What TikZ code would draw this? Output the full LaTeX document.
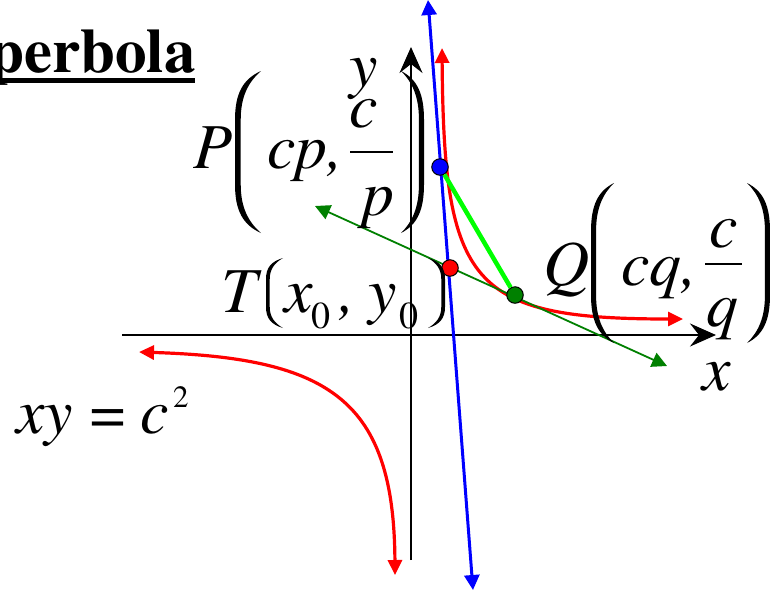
\documentclass[tikz,border=0pt]{standalone}
\usepackage[T1]{fontenc}
\renewcommand{\rmdefault}{ptm}
\usetikzlibrary{arrows.meta}

\begin{document}
\begin{tikzpicture}[x=1pt, y=-1pt,
    lbl/.style={font=\rmfamily\fontsize{64}{70}\selectfont\itshape, inner sep=0pt, anchor=base west},
    idx/.style={font=\rmfamily\fontsize{38}{40}\selectfont, inner sep=0pt, anchor=base west},
    axis/.style={line width=2pt, -{Stealth[length=26pt, width=23pt, inset=9pt]}},
    branch/.style={red, line width=3.2pt, {Triangle[length=15pt, width=14pt]}-{Triangle[length=15pt, width=14pt]}},
    tang/.style={line width=#1, {Triangle[length=15pt, width=15pt]}-{Triangle[length=15pt, width=15pt]}},
    dot/.style={circle, draw=black, line width=1pt, minimum size=16.5pt, inner sep=0pt},
    bar/.style={line width=1.5pt},
    pics/lpar/.style 2 args={code={
      \fill (0,0) .. controls ({-0.7*#2},{0.05*#1}) and ({-#2},{0.14*#1}) .. ({-#2},{0.3*#1})
        -- ({-#2},{0.7*#1}) .. controls ({-#2},{0.86*#1}) and ({-0.7*#2},{0.95*#1}) .. (0,#1)
        .. controls ({-0.5*#2},{0.93*#1}) and ({-0.78*#2},{0.84*#1}) .. ({-0.78*#2},{0.7*#1})
        -- ({-0.78*#2},{0.3*#1}) .. controls ({-0.78*#2},{0.16*#1}) and ({-0.5*#2},{0.07*#1}) .. (0,0) -- cycle;
    }}]
    \useasboundingbox (0,0) rectangle (770,590);

    % title
    \node[font=\rmfamily\fontsize{63}{70}\selectfont\bfseries, inner sep=0pt, anchor=base west] (ttl) at (-11,72) {perbola};
    \draw[line width=5pt] (0,80.5) -- (195,80.5);

    % axes
    \coordinate (xl) at (122,335);
    \coordinate (xr) at (716,335);
    \coordinate (yb) at (411,560);
    \coordinate (yt) at (411,47);
    \draw[axis] (xl) -- (xr);
    \draw[axis] (yb) -- (yt);

    % the two branches
    \draw[branch] (442,48) .. controls (444,285) and (470,319) .. (683,319);
    \draw[branch] (139,352) .. controls (330,358) and (394,400) .. (395,575);

    % tangents at Q and P
    \coordinate (pP) at (440,167);
    \coordinate (pT) at (450,268);
    \coordinate (pQ) at (515,295);
    \coordinate (gl) at (315,206);
    \coordinate (gr) at (667,366);
    \coordinate (bt) at (428,0);
    \coordinate (bb) at (473,590);
    \draw[tang=1.8pt, green!50!black] (gl) -- (gr);
    \draw[tang=3pt, blue] (bt) -- (bb);

    \node[dot, fill=blue] (P) at (pP) {};
    \node[dot, fill=red] (T) at (pT) {};
    \node[dot, fill=green!50!black] (Q) at (pQ) {};
    \draw[green, line width=4.5pt] (P) -- (Q);

    % P(cp, c/p)
    \node[lbl] (lP) at (193,168) {P};
    \pic at (261,71) {lpar={162}{26}};
    \node[lbl] (lcp) at (267,168) {cp,};
    \node[lbl] (lc1) at (349,127) {c};
    \draw[bar] (350,152) -- (393,152);
    \node[lbl] (lp) at (362,215) {p};
    \pic[xscale=-1] at (401,71) {lpar={162}{23}};
    \node[lbl] (ly) at (349,86) {y};

    % T(x0, y0)
    \node[lbl] (lT) at (221,312) {T};
    \pic at (283,258) {lpar={70}{17}};
    \node[lbl] (lx0) at (284,312) {x};
    \node[idx] (ix0) at (311,328) {0};
    \node[lbl] (lcm) at (339,312) {,};
    \node[lbl] (ly0) at (368,312) {y};
    \node[idx] (iy0) at (399,328) {0};
    \pic[xscale=-1] at (428,258) {lpar={70}{17}};

    % Q(cq, c/q)
    \node[lbl] (lQ) at (543,285) {Q};
    \pic at (614,183) {lpar={160}{23}};
    \node[lbl] (lcq) at (621,285) {cq,};
    \node[lbl] (lc2) at (709,247) {c};
    \draw[bar] (705,264) -- (742,264);
    \node[lbl] (lq) at (706,326) {q};
    \pic[xscale=-1] at (747,183) {lpar={160}{23}};

    \node[lbl] (lx) at (702,390) {x};

    % xy = c^2
    \node[lbl] (lxy) at (16,433) {xy};
    \node[lbl, font=\rmfamily\fontsize{62}{70}\selectfont] (leq) at (90,433) {=};
    \node[lbl] (lc3) at (140,433) {c};
    \node[idx, font=\rmfamily\fontsize{31}{32}\selectfont] (i2) at (173,407) {2};
\end{tikzpicture}
\end{document}
